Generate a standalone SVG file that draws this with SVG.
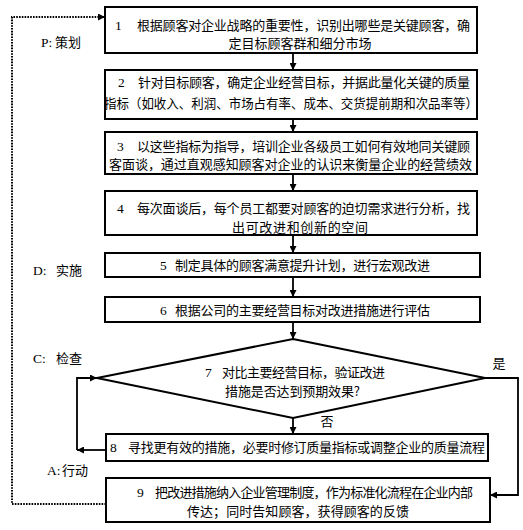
<svg xmlns="http://www.w3.org/2000/svg" width="523" height="530" viewBox="0 0 523 530">
<style>
.box{fill:#fff;stroke:#000;stroke-width:2}
.t{font-family:"Noto Sans CJK SC","Liberation Serif",sans-serif;font-size:13px;fill:#000}
.n{font-family:"Liberation Serif","Noto Sans CJK SC",serif;font-size:13.5px;fill:#000}
.c{text-anchor:middle}
.ln{fill:none;stroke:#000;stroke-width:1.8}
.dot{fill:none;stroke:#000;stroke-width:2;stroke-dasharray:1.6 1.2}
</style>
<defs>
<marker id="ah" viewBox="0 0 10 10" refX="10" refY="5" markerWidth="9" markerHeight="7" markerUnits="userSpaceOnUse" orient="auto">
<path d="M0,0 L10,5 L0,10 Z" fill="#000"/>
</marker>
</defs>
<rect width="523" height="530" fill="#fff"/>

<g id="connectors">
<line class="ln" x1="293" y1="53" x2="293" y2="70" marker-end="url(#ah)"/>
<line class="ln" x1="293" y1="119" x2="293" y2="132" marker-end="url(#ah)"/>
<line class="ln" x1="293" y1="174" x2="293" y2="191" marker-end="url(#ah)"/>
<line class="ln" x1="293" y1="235" x2="293" y2="253" marker-end="url(#ah)"/>
<line class="ln" x1="293" y1="277" x2="293" y2="297" marker-end="url(#ah)"/>
<line class="ln" x1="293" y1="322" x2="293" y2="339" marker-end="url(#ah)"/>
<line class="ln" x1="293" y1="418" x2="293" y2="434" marker-end="url(#ah)"/>
<line class="ln" x1="106" y1="450" x2="77" y2="450" marker-end="url(#ah)"/>
<polyline class="ln" points="77,450 77,378 97,378" marker-end="url(#ah)"/>
<polyline class="ln" points="485,378 518,378 518,495 490,495" marker-end="url(#ah)"/>
<polyline class="dot" points="106,504 12,504 12,17 105,17" marker-end="url(#ah)"/>
<text class="t c" x="499" y="368">是</text>
<text class="t c" x="327" y="426">否</text>
</g>

<g id="labels">
<text class="n" x="41" y="47">P:</text><text class="t" x="55" y="47">策划</text>
<text class="n" x="33" y="275">D:</text><text class="t" x="56" y="275">实施</text>
<text class="n" x="33" y="363">C:</text><text class="t" x="56" y="363">检查</text>
<text class="n" x="47" y="475">A:</text><text class="t" x="62" y="475">行动</text>
</g>

<g id="n1">
<rect class="box" x="105" y="7" width="372" height="46"/>
<text class="n" x="115" y="30">1</text>
<text class="t" x="137" y="30" textLength="333" lengthAdjust="spacing">根据顾客对企业战略的重要性，识别出哪些是关键顾客，确</text>
<text class="t c" x="300" y="48">定目标顾客群和细分市场</text>
</g>

<g id="n2">
<rect class="box" x="105" y="70" width="372" height="49"/>
<text class="n" x="118" y="87">2</text>
<text class="t" x="138" y="87" textLength="332" lengthAdjust="spacing">针对目标顾客，确定企业经营目标，并据此量化关键的质量</text>
<text class="t" x="104" y="108" textLength="374" lengthAdjust="spacingAndGlyphs">指标（如收入、利润、市场占有率、成本、交货提前期和次品率等）</text>
</g>

<g id="n3">
<rect class="box" x="105" y="132" width="372" height="42"/>
<text class="n" x="117" y="151">3</text>
<text class="t" x="137" y="151" textLength="333" lengthAdjust="spacing">以这些指标为指导，培训企业各级员工如何有效地同关键顾</text>
<text class="t" x="109" y="169" textLength="363" lengthAdjust="spacing">客面谈，通过直观感知顾客对企业的认识来衡量企业的经营绩效</text>
</g>

<g id="n4">
<rect class="box" x="105" y="191" width="372" height="44"/>
<text class="n" x="117" y="213">4</text>
<text class="t" x="137" y="213" textLength="333" lengthAdjust="spacing">每次面谈后，每个员工都要对顾客的迫切需求进行分析，找</text>
<text class="t" x="232" y="232" textLength="136" lengthAdjust="spacing">出可改进和创新的空间</text>
</g>

<g id="n5">
<rect class="box" x="105" y="253" width="375" height="24"/>
<text class="n" x="160" y="270">5</text>
<text class="t" x="175" y="270" textLength="255" lengthAdjust="spacing">制定具体的顾客满意提升计划，进行宏观改进</text>
</g>

<g id="n6">
<rect class="box" x="105" y="297" width="375" height="25"/>
<text class="n" x="160" y="315">6</text>
<text class="t" x="175" y="315" textLength="255" lengthAdjust="spacing">根据公司的主要经营目标对改进措施进行评估</text>
</g>

<g id="n7">
<polygon class="box" points="293,339 485,378 293,418 97,378"/>
<text class="n" x="205" y="377">7</text>
<text class="t" x="222" y="377" textLength="163" lengthAdjust="spacing">对比主要经营目标，验证改进</text>
<text class="t" x="225" y="396" textLength="135" lengthAdjust="spacing">措施是否达到预期效果?</text>
</g>

<g id="n8">
<rect class="box" x="106" y="434" width="382" height="27"/>
<text class="n" x="110" y="452">8</text>
<text class="t" x="128" y="452" textLength="357" lengthAdjust="spacing">寻找更有效的措施，必要时修订质量指标或调整企业的质量流程</text>
</g>

<g id="n9">
<rect class="box" x="106" y="478" width="384" height="44"/>
<text class="n" x="137" y="497">9</text>
<text class="t" x="155" y="497" textLength="318" lengthAdjust="spacing">把改进措施纳入企业管理制度，作为标准化流程在企业内部</text>
<text class="t" x="187" y="516" textLength="222" lengthAdjust="spacing">传达；同时告知顾客，获得顾客的反馈</text>
</g>
</svg>
